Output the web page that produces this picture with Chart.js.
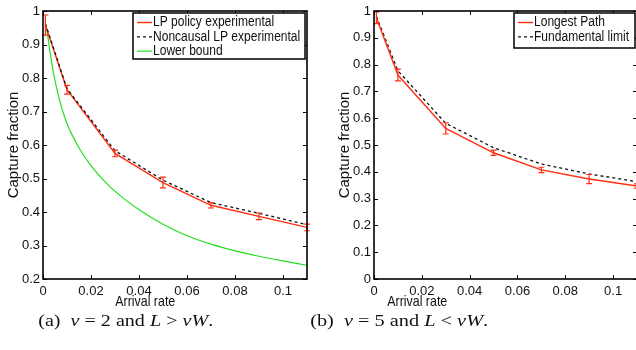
<!DOCTYPE html>
<html>
<head>
<meta charset="utf-8">
<script src="https://cdn.jsdelivr.net/npm/chart.js@4"></script>
<style>
    html, body { margin: 0; padding: 0; background: #fff; }
    #wrap { position: relative; width: 636px; height: 350px; overflow: hidden; }
    canvas { position: absolute; top: 0; }
    .axis-label, .caption { position: absolute; width: 240px; text-align: center; white-space: nowrap; }
    .axis-label span, .caption span { display: inline-block; transform-origin: center; }
    .axis-label { font: 15px "Liberation Sans", Arial, sans-serif; line-height: 15px; top: 293px; color: #111; }
    .caption { font: 16px "Liberation Serif", "Times New Roman", serif; line-height: 16px; top: 313px; color: #111; }
</style>
</head>
<body>
<div id="wrap">
    <canvas id="chartA" width="318" height="300" style="left: 0"></canvas>
    <canvas id="chartB" width="330" height="300" style="left: 318px"></canvas>
    <div class="axis-label" style="left: 25px"><span id="xlabA">Arrival rate</span></div>
    <div class="axis-label" style="left: 297px"><span id="xlabB">Arrival rate</span></div>
    <div class="caption" style="left: 6px"><span id="capA">(a)&nbsp; <i>v</i> = 2 and <i>L</i> &gt; <i>vW</i>.</span></div>
    <div class="caption" style="left: 279px"><span id="capB">(b)&nbsp; <i>v</i> = 5 and <i>L</i> &lt; <i>vW</i>.</span></div>
</div>
<script>
// arrival rates where the experiments were run
const arrivalRates = [0.001, 0.01, 0.03, 0.05, 0.07, 0.09, 0.11]

// (a) v = 2
const lpPolicy = [0.958, 0.765, 0.575, 0.488, 0.420, 0.387, 0.354]
const lpPolicyErr = [0.030, 0.013, 0.010, 0.016, 0.008, 0.010, 0.010]
const noncausalLp = [0.962, 0.768, 0.583, 0.495, 0.428, 0.396, 0.362]
const lowerBoundRates = [0.001, 0.0016, 0.003, 0.0044, 0.0065, 0.0093, 0.0127, 0.0155, 0.0198, 0.0267, 0.0337, 0.0407, 0.0504, 0.0598, 0.07, 0.08, 0.09, 0.1, 0.11]
const lowerBound = [0.962, 0.943, 0.874, 0.814, 0.745, 0.677, 0.622, 0.586, 0.540, 0.484, 0.440, 0.404, 0.362, 0.330, 0.304, 0.284, 0.268, 0.254, 0.241]

// (b) v = 5
const longestPath = [0.975, 0.761, 0.562, 0.471, 0.407, 0.373, 0.347]
const longestPathErr = [0.022, 0.022, 0.021, 0.010, 0.010, 0.017, 0.008]
const fundamentalLimit = [0.980, 0.777, 0.581, 0.490, 0.429, 0.392, 0.363]

// ticks
const xTicks = [0, 0.02, 0.04, 0.06, 0.08, 0.1]
const xTickLabels = ["0", "0.02", "0.04", "0.06", "0.08", "0.1"]
const yTicksA = [0.2, 0.3, 0.4, 0.5, 0.6, 0.7, 0.8, 0.9, 1]
const yTickLabelsA = ["0.2", "0.3", "0.4", "0.5", "0.6", "0.7", "0.8", "0.9", "1"]
const yTicksB = [0, 0.1, 0.2, 0.3, 0.4, 0.5, 0.6, 0.7, 0.8, 0.9, 1]
const yTickLabelsB = ["0", "0.1", "0.2", "0.3", "0.4", "0.5", "0.6", "0.7", "0.8", "0.9", "1"]

const RED = "#ff2e12"
const BLACK = "#111111"
const GREEN = "#22e022"
const FONT = "'Liberation Sans', Arial, sans-serif"

const toPoints = (xs, ys) => xs.map((x, i) => ({x: x, y: ys[i]}))

// matlab style box with inward ticks on all four sides
const frameTicks = {
    id: "frameTicks",
    afterDraw(chart) {
        const {ctx, chartArea: a, scales} = chart
        ctx.save()
        ctx.strokeStyle = "#000"
        ctx.lineWidth = 1
        ctx.beginPath()
        scales.x.ticks.forEach((t) => {
            const px = Math.round(scales.x.getPixelForValue(t.value)) + 0.5
            ctx.moveTo(px, a.bottom); ctx.lineTo(px, a.bottom - 4)
            ctx.moveTo(px, a.top); ctx.lineTo(px, a.top + 4)
        })
        scales.y.ticks.forEach((t) => {
            const py = Math.round(scales.y.getPixelForValue(t.value)) + 0.5
            ctx.moveTo(a.left, py); ctx.lineTo(a.left + 4, py)
            ctx.moveTo(a.right, py); ctx.lineTo(a.right - 4, py)
        })
        ctx.stroke()
        ctx.lineWidth = 1.6
        ctx.strokeRect(a.left, a.top, a.right - a.left, a.bottom - a.top)
        ctx.restore()
    }
}

const errorBars = {
    id: "errorBars",
    afterDatasetsDraw(chart) {
        const {ctx, scales} = chart
        ctx.save()
        chart.data.datasets.forEach((ds) => {
            if (!ds.errors) return
            ctx.strokeStyle = ds.borderColor
            ctx.lineWidth = 1.2
            ds.data.forEach((p, i) => {
                const px = scales.x.getPixelForValue(p.x)
                const top = scales.y.getPixelForValue(p.y + ds.errors[i])
                const bottom = scales.y.getPixelForValue(p.y - ds.errors[i])
                ctx.beginPath()
                ctx.moveTo(px, top); ctx.lineTo(px, bottom)
                ctx.moveTo(px - 3, top); ctx.lineTo(px + 3, top)
                ctx.moveTo(px - 3, bottom); ctx.lineTo(px + 3, bottom)
                ctx.stroke()
            })
        })
        ctx.restore()
    }
}

const boxLegend = {
    id: "boxLegend",
    afterDraw(chart, args, opts) {
        const {ctx, chartArea: a} = chart
        const x0 = a.right - 2 - opts.width
        const y0 = a.top + 2
        ctx.save()
        ctx.fillStyle = "#fff"
        ctx.fillRect(x0, y0, opts.width, opts.height)
        ctx.strokeStyle = "#000"
        ctx.lineWidth = 1.5
        ctx.strokeRect(x0, y0, opts.width, opts.height)
        ctx.font = "14px " + FONT
        ctx.textBaseline = "middle"
        ctx.fillStyle = "#111"
        chart.data.datasets.forEach((ds, i) => {
            const y = y0 + 9.5 + i * 14.3
            ctx.strokeStyle = ds.borderColor
            ctx.lineWidth = ds.borderWidth
            ctx.setLineDash(ds.borderDash || [])
            ctx.beginPath()
            ctx.moveTo(x0 + 4, y); ctx.lineTo(x0 + 19, y)
            ctx.stroke()
            ctx.setLineDash([])
            ctx.save()
            ctx.translate(x0 + 20, y)
            ctx.scale(0.86, 1)
            ctx.fillText(ds.label, 0, 0)
            ctx.restore()
        })
        ctx.restore()
    }
}

const getConfig = (datasets, yMin, yTicks, yTickLabels, padLeft, legendSize) => {
    return {
        type: "line",
        data: {datasets: datasets},
        options: {
            responsive: false,
            animation: false,
            layout: {padding: {left: padLeft, top: 11, right: 11, bottom: 0}},
            elements: {point: {radius: 0}},
            scales: {
                x: {
                    type: "linear",
                    min: 0,
                    max: 0.11,
                    grid: {display: false, drawTicks: false},
                    border: {display: false},
                    afterBuildTicks: (scale) => { scale.ticks = xTicks.map((v) => ({value: v})) },
                    afterFit: (scale) => { scale.height = 21 },
                    ticks: {
                        autoSkip: false,
                        maxRotation: 0,
                        padding: 5,
                        color: "#111",
                        font: {size: 13, family: FONT},
                        callback: (value, index) => xTickLabels[index]
                    }
                },
                y: {
                    min: yMin,
                    max: 1,
                    grid: {display: false, drawTicks: false},
                    border: {display: false},
                    afterBuildTicks: (scale) => { scale.ticks = yTicks.map((v) => ({value: v})) },
                    afterFit: (scale) => { scale.width = 43 },
                    title: {
                        display: true,
                        text: "Capture fraction",
                        color: "#111",
                        font: {size: 15, family: FONT},
                        padding: {top: 5, bottom: 0}
                    },
                    ticks: {
                        autoSkip: false,
                        padding: 3,
                        color: "#111",
                        font: {size: 13, family: FONT},
                        callback: (value, index) => yTickLabels[index]
                    }
                }
            },
            plugins: {
                legend: {display: false},
                tooltip: {enabled: false},
                boxLegend: legendSize
            }
        },
        plugins: [frameTicks, errorBars, boxLegend]
    }
}

const datasetsA = [
    {
        label: "LP policy experimental",
        data: toPoints(arrivalRates, lpPolicy),
        errors: lpPolicyErr,
        borderColor: RED,
        borderWidth: 1.4,
        fill: false,
        order: 1
    },
    {
        label: "Noncausal LP experimental",
        data: toPoints(arrivalRates, noncausalLp),
        borderColor: BLACK,
        borderWidth: 1.3,
        borderDash: [3, 3],
        fill: false,
        order: 0
    },
    {
        label: "Lower bound",
        data: toPoints(lowerBoundRates, lowerBound),
        borderColor: GREEN,
        borderWidth: 1.2,
        cubicInterpolationMode: "monotone",
        fill: false,
        order: 2
    }
]

const datasetsB = [
    {
        label: "Longest Path",
        data: toPoints(arrivalRates, longestPath),
        errors: longestPathErr,
        borderColor: RED,
        borderWidth: 1.4,
        fill: false,
        order: 0
    },
    {
        label: "Fundamental limit",
        data: toPoints(arrivalRates, fundamentalLimit),
        borderColor: BLACK,
        borderWidth: 1.3,
        borderDash: [3, 3],
        fill: false,
        order: 1
    }
]

new Chart(document.getElementById("chartA"), getConfig(datasetsA, 0.2, yTicksA, yTickLabelsA, 0, {width: 172, height: 46}))
new Chart(document.getElementById("chartB"), getConfig(datasetsB, 0, yTicksB, yTickLabelsB, 13, {width: 121, height: 35}))

// squeeze/stretch the html labels to the widths they have in the figure
const fitWidth = (id, target) => {
    const el = document.getElementById(id)
    const w = el.getBoundingClientRect().width
    el.style.transform = `scaleX(${target / w})`
}
fitWidth("xlabA", 60)
fitWidth("xlabB", 60)
fitWidth("capA", 175)
fitWidth("capB", 178)
</script>
</body>
</html>
